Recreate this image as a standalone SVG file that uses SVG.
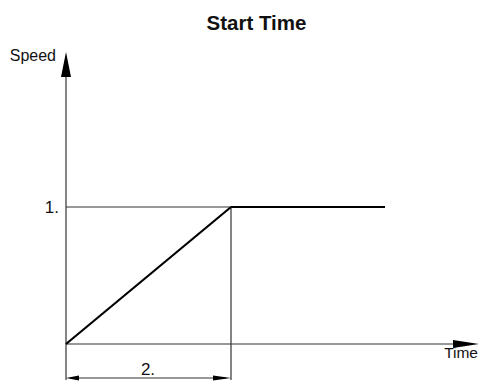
<svg xmlns="http://www.w3.org/2000/svg" width="480" height="381" viewBox="0 0 480 381">
<style>
text{font-family:"Liberation Sans",Arial,sans-serif;fill:#111}
.thin{stroke:#333;stroke-width:1.2;fill:none}
.thick{stroke:#000;stroke-width:2.2;fill:none}
.ah{fill:#000;stroke:none}
</style>
<rect width="480" height="381" fill="#fff"/>
<text x="256.5" y="30" font-size="20.5" font-weight="bold" text-anchor="middle">Start Time</text>
<g id="connectors">
<line class="thin" x1="66" y1="380" x2="66" y2="70"/>
<polygon class="ah" points="66,52 71,77 61,77"/>
<line class="thin" x1="66" y1="344" x2="460" y2="344"/>
<polygon class="ah" points="479,344 453,340 453,348"/>
<line class="thin" x1="66" y1="207" x2="231" y2="207"/>
<line class="thin" x1="231" y1="207" x2="231" y2="380"/>
<line class="thick" x1="66" y1="344" x2="231" y2="207"/>
<line class="thick" x1="231" y1="207" x2="385" y2="207"/>
<line class="thin" x1="70" y1="378" x2="226" y2="378"/>
<polygon class="ah" points="66,378 79,375.5 79,380.5"/>
<polygon class="ah" points="231,378 213,375.5 213,380.5"/>
</g>
<g id="labels">
<text x="56" y="61" font-size="16" text-anchor="end">Speed</text>
<text x="478" y="358" font-size="15.5" text-anchor="end">Time</text>
<text x="59" y="213" font-size="17" text-anchor="end">1.</text>
<text x="148" y="375" font-size="17" text-anchor="middle">2.</text>
</g>
</svg>
